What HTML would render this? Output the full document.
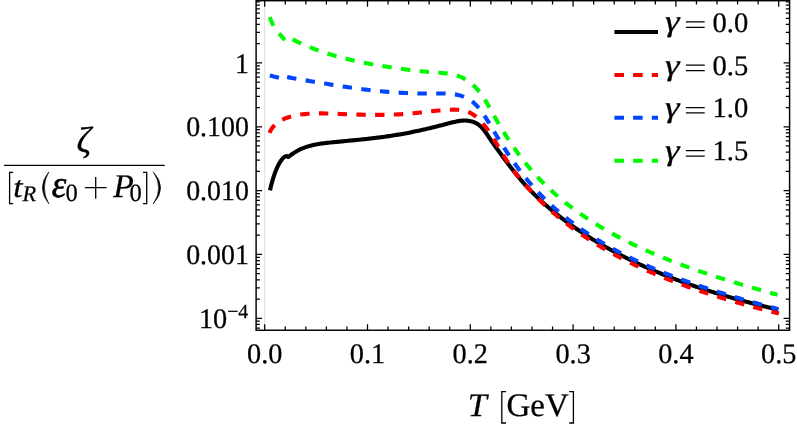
<!DOCTYPE html>
<html><head><meta charset="utf-8"><title>plot</title>
<style>html,body{margin:0;padding:0;background:#fff;}svg{display:block;}</style></head>
<body>
<svg width="797" height="430" viewBox="0 0 797 430" style="will-change:transform">
<rect width="797" height="430" fill="#fff"/>
<path d="M264.7,0.7 V330.25" stroke="#c0c0c0" stroke-width="0.55" fill="none"/>
<g fill="none" stroke-width="4.1" stroke-linecap="butt" stroke-linejoin="round">
<path d="M270.00,190.40 L270.14,189.75 L270.29,189.09 L270.44,188.44 L270.59,187.79 L270.74,187.14 L270.90,186.49 L271.06,185.84 L271.22,185.19 L271.39,184.55 L271.56,183.90 L271.73,183.25 L271.90,182.61 L272.08,181.96 L272.26,181.32 L272.44,180.67 L272.63,180.03 L272.82,179.39 L273.01,178.75 L273.21,178.11 L273.41,177.48 L273.62,176.84 L273.82,176.21 L274.04,175.57 L274.25,174.94 L274.47,174.31 L274.69,173.67 L274.92,173.04 L275.15,172.41 L275.39,171.79 L275.63,171.16 L275.88,170.54 L276.13,169.92 L276.38,169.31 L276.64,168.70 L276.91,168.09 L277.19,167.48 L277.47,166.87 L277.76,166.26 L278.06,165.66 L278.36,165.06 L278.67,164.47 L278.99,163.88 L279.32,163.30 L279.66,162.73 L280.01,162.16 L280.37,161.60 L280.74,161.04 L281.13,160.48 L281.53,159.94 L281.94,159.41 L282.36,158.89 L282.81,158.40 L283.26,157.91 L283.75,157.42 L284.26,156.96 L284.80,156.60 L285.39,156.34 L286.02,156.14 L286.70,156.00 L288.22,157.02 L289.32,156.18 L290.44,155.34 L291.58,154.51 L292.73,153.70 L293.90,152.91 L295.08,152.15 L296.28,151.42 L297.50,150.72 L298.73,150.07 L299.97,149.46 L301.23,148.89 L302.50,148.35 L303.78,147.84 L305.08,147.37 L306.38,146.93 L307.70,146.51 L309.02,146.12 L310.36,145.76 L311.70,145.42 L313.06,145.10 L314.42,144.80 L315.79,144.53 L317.16,144.27 L318.54,144.03 L319.93,143.80 L321.33,143.59 L322.72,143.40 L324.13,143.21 L325.53,143.04 L326.94,142.87 L328.35,142.72 L329.77,142.57 L331.18,142.42 L332.60,142.28 L334.02,142.15 L335.43,142.01 L336.85,141.88 L338.27,141.74 L339.68,141.61 L341.10,141.47 L342.51,141.34 L343.93,141.20 L345.34,141.07 L346.76,140.93 L348.17,140.80 L349.58,140.66 L350.99,140.52 L352.40,140.39 L353.81,140.25 L355.22,140.11 L356.63,139.97 L358.03,139.82 L359.44,139.68 L360.84,139.54 L362.25,139.39 L363.65,139.24 L365.05,139.09 L366.45,138.94 L367.85,138.79 L369.25,138.63 L370.65,138.47 L372.04,138.31 L373.44,138.15 L374.83,137.98 L376.22,137.81 L377.61,137.64 L379.00,137.47 L380.38,137.29 L381.77,137.11 L383.15,136.92 L384.53,136.73 L385.92,136.54 L387.29,136.35 L388.67,136.15 L390.05,135.95 L391.42,135.74 L392.79,135.53 L394.16,135.32 L395.53,135.10 L396.89,134.87 L398.26,134.64 L399.62,134.41 L400.98,134.17 L402.34,133.93 L403.70,133.69 L405.05,133.44 L406.41,133.18 L407.77,132.92 L409.12,132.66 L410.47,132.40 L411.83,132.12 L413.18,131.85 L414.53,131.57 L415.89,131.29 L417.24,131.00 L418.59,130.71 L419.94,130.41 L421.30,130.11 L422.65,129.81 L424.01,129.50 L425.37,129.19 L426.72,128.87 L428.08,128.55 L429.44,128.23 L430.80,127.90 L432.17,127.57 L433.53,127.24 L434.90,126.90 L436.27,126.56 L437.64,126.21 L439.01,125.86 L440.39,125.51 L441.77,125.16 L443.15,124.80 L444.54,124.43 L445.92,124.06 L447.31,123.69 L448.71,123.32 L450.10,122.96 L451.50,122.60 L452.90,122.26 L454.29,121.93 L455.69,121.63 L457.08,121.36 L458.47,121.12 L459.86,120.91 L461.25,120.75 L462.63,120.64 L464.00,120.57 L465.37,120.57 L466.73,120.62 L468.09,120.75 L469.43,120.94 L470.77,121.21 L472.09,121.55 L473.41,121.99 L474.71,122.51 L475.98,123.11 L477.21,123.80 L478.38,124.58 L479.50,125.43 L480.56,126.35 L481.57,127.33 L482.54,128.36 L483.46,129.43 L484.34,130.54 L485.18,131.67 L486.00,132.82 L486.80,133.98 L487.59,135.15 L488.36,136.33 L489.14,137.51 L489.92,138.68 L490.70,139.84 L491.49,141.00 L492.29,142.16 L493.09,143.31 L493.90,144.46 L494.71,145.60 L495.52,146.74 L496.34,147.88 L497.16,149.01 L497.98,150.14 L498.80,151.27 L499.62,152.40 L500.45,153.53 L501.28,154.66 L502.10,155.79 L502.93,156.92 L503.76,158.05 L504.60,159.17 L505.43,160.29 L506.27,161.42 L507.11,162.54 L507.95,163.66 L508.79,164.77 L509.64,165.89 L510.49,167.00 L511.34,168.10 L512.20,169.21 L513.06,170.31 L513.93,171.41 L514.80,172.51 L515.67,173.60 L516.55,174.69 L517.43,175.77 L518.32,176.85 L519.21,177.93 L520.11,179.00 L521.02,180.07 L521.93,181.13 L522.84,182.18 L523.76,183.23 L524.69,184.28 L525.63,185.32 L526.57,186.35 L527.52,187.38 L528.47,188.40 L529.43,189.42 L530.40,190.43 L531.37,191.44 L532.35,192.44 L533.34,193.43 L534.33,194.42 L535.33,195.41 L536.33,196.38 L537.34,197.36 L538.36,198.32 L539.38,199.29 L540.40,200.24 L541.43,201.19 L542.47,202.14 L543.51,203.08 L544.56,204.02 L545.61,204.95 L546.66,205.87 L547.73,206.79 L548.79,207.70 L549.86,208.61 L550.94,209.52 L552.02,210.42 L553.10,211.31 L554.19,212.20 L555.28,213.09 L556.38,213.96 L557.48,214.84 L558.58,215.71 L559.69,216.57 L560.80,217.43 L561.92,218.29 L563.04,219.14 L564.16,219.98 L565.29,220.82 L566.42,221.66 L567.55,222.49 L568.69,223.32 L569.83,224.14 L570.97,224.96 L572.12,225.77 L573.27,226.58 L574.42,227.38 L575.57,228.18 L576.73,228.97 L577.89,229.76 L579.05,230.55 L580.22,231.33 L581.38,232.11 L582.55,232.88 L583.73,233.65 L584.90,234.41 L586.08,235.17 L587.26,235.93 L588.44,236.68 L589.63,237.42 L590.81,238.17 L592.00,238.90 L593.20,239.64 L594.39,240.37 L595.59,241.09 L596.79,241.81 L597.99,242.53 L599.19,243.24 L600.40,243.95 L601.61,244.66 L602.82,245.36 L604.03,246.05 L605.25,246.74 L606.46,247.43 L607.68,248.12 L608.90,248.80 L610.13,249.47 L611.35,250.15 L612.58,250.81 L613.81,251.48 L615.05,252.14 L616.28,252.80 L617.52,253.45 L618.76,254.10 L620.00,254.74 L621.24,255.39 L622.48,256.02 L623.73,256.66 L624.98,257.29 L626.23,257.91 L627.48,258.54 L628.74,259.15 L629.99,259.77 L631.25,260.38 L632.51,260.99 L633.77,261.59 L635.04,262.19 L636.30,262.79 L637.57,263.39 L638.84,263.98 L640.11,264.56 L641.38,265.14 L642.65,265.72 L643.93,266.30 L645.21,266.87 L646.49,267.44 L647.77,268.01 L649.05,268.57 L650.33,269.13 L651.62,269.68 L652.91,270.24 L654.19,270.78 L655.48,271.33 L656.78,271.87 L658.07,272.41 L659.36,272.95 L660.66,273.48 L661.96,274.01 L663.26,274.53 L664.56,275.06 L665.86,275.58 L667.16,276.09 L668.47,276.61 L669.77,277.12 L671.08,277.62 L672.39,278.13 L673.70,278.63 L675.01,279.13 L676.32,279.62 L677.63,280.11 L678.95,280.60 L680.26,281.09 L681.58,281.57 L682.90,282.05 L684.22,282.53 L685.54,283.00 L686.86,283.47 L688.18,283.94 L689.51,284.41 L690.83,284.87 L692.16,285.33 L693.48,285.79 L694.81,286.24 L696.14,286.69 L697.47,287.14 L698.80,287.59 L700.13,288.03 L701.46,288.47 L702.80,288.91 L704.13,289.35 L705.47,289.78 L706.80,290.21 L708.14,290.64 L709.48,291.06 L710.82,291.48 L712.16,291.90 L713.50,292.32 L714.84,292.74 L716.18,293.15 L717.52,293.56 L718.86,293.97 L720.21,294.37 L721.55,294.77 L722.89,295.18 L724.24,295.57 L725.59,295.97 L726.93,296.36 L728.28,296.75 L729.63,297.14 L730.98,297.53 L732.32,297.91 L733.67,298.30 L735.02,298.67 L736.37,299.05 L737.72,299.43 L739.07,299.80 L740.43,300.17 L741.78,300.54 L743.13,300.91 L744.48,301.27 L745.83,301.64 L747.19,302.00 L748.54,302.35 L749.89,302.71 L751.25,303.07 L752.60,303.42 L753.96,303.77 L755.31,304.12 L756.67,304.46 L758.02,304.81 L759.38,305.15 L760.73,305.49 L762.09,305.83 L763.44,306.17 L764.80,306.51 L766.15,306.84 L767.51,307.17 L768.86,307.50 L770.22,307.83 L771.58,308.16 L772.93,308.48 L774.29,308.80 L775.64,309.13 L777.00,309.45 L778.35,309.76" stroke="#000"/>
<path d="M269.46,132.81 L270.20,131.23 L271.03,129.75 L271.94,128.35 L272.93,127.04 L273.99,125.81 L275.13,124.66 L276.33,123.59 L277.59,122.60 L278.91,121.67 L280.28,120.82 L281.69,120.03 L283.16,119.30 L284.66,118.63 L286.20,118.02 L287.77,117.46 L289.36,116.95 L290.98,116.49 L292.62,116.07 L294.27,115.69 L295.93,115.36 L297.60,115.05 L299.27,114.78 L300.93,114.54 L302.59,114.33 L304.25,114.14 L305.90,113.97 L307.54,113.83 L309.18,113.71 L310.82,113.61 L312.45,113.53 L314.08,113.47 L315.71,113.42 L317.33,113.39 L318.95,113.38 L320.57,113.38 L322.19,113.39 L323.81,113.41 L325.42,113.44 L327.04,113.48 L328.65,113.53 L330.27,113.58 L331.88,113.64 L333.50,113.70 L335.12,113.77 L336.74,113.83 L338.36,113.90 L339.98,113.96 L341.60,114.03 L343.23,114.09 L344.85,114.15 L346.48,114.21 L348.11,114.27 L349.74,114.33 L351.37,114.39 L353.01,114.44 L354.64,114.49 L356.28,114.54 L357.91,114.59 L359.55,114.63 L361.19,114.67 L362.83,114.71 L364.47,114.74 L366.11,114.77 L367.75,114.80 L369.39,114.82 L371.04,114.84 L372.68,114.86 L374.32,114.86 L375.97,114.87 L377.61,114.87 L379.25,114.86 L380.90,114.85 L382.54,114.84 L384.19,114.82 L385.83,114.79 L387.47,114.76 L389.11,114.72 L390.76,114.67 L392.40,114.62 L394.04,114.56 L395.68,114.49 L397.32,114.42 L398.96,114.34 L400.60,114.25 L402.24,114.15 L403.88,114.05 L405.51,113.93 L407.15,113.81 L408.78,113.68 L410.41,113.55 L412.04,113.40 L413.67,113.24 L415.30,113.08 L416.93,112.91 L418.56,112.73 L420.19,112.55 L421.81,112.37 L423.44,112.18 L425.07,111.99 L426.70,111.81 L428.33,111.62 L429.96,111.43 L431.59,111.25 L433.22,111.07 L434.86,110.90 L436.50,110.73 L438.14,110.57 L439.78,110.42 L441.42,110.28 L443.07,110.15 L444.72,110.04 L446.38,109.93 L448.04,109.84 L449.70,109.77 L451.37,109.71 L453.04,109.67 L454.70,109.67 L456.36,109.71 L458.01,109.79 L459.64,109.92 L461.26,110.11 L462.85,110.37 L464.42,110.70 L465.95,111.12 L467.46,111.62 L468.93,112.22 L470.36,112.90 L471.75,113.68 L473.11,114.53 L474.43,115.46 L475.72,116.46 L476.97,117.51 L478.19,118.61 L479.37,119.76 L480.53,120.94 L481.65,122.16 L482.74,123.40 L483.80,124.66 L484.83,125.93 L485.84,127.23 L486.82,128.54 L487.78,129.86 L488.71,131.20 L489.63,132.54 L490.53,133.90 L491.42,135.27 L492.29,136.65 L493.15,138.04 L494.00,139.44 L494.84,140.84 L495.68,142.24 L496.51,143.65 L497.33,145.07 L498.16,146.48 L498.99,147.90 L499.82,149.31 L500.66,150.73 L501.50,152.14 L502.35,153.55 L503.21,154.95 L504.08,156.35 L504.96,157.74 L505.86,159.13 L506.77,160.51 L507.68,161.88 L508.61,163.25 L509.55,164.61 L510.50,165.97 L511.46,167.32 L512.43,168.66 L513.41,170.00 L514.40,171.33 L515.40,172.65 L516.41,173.97 L517.43,175.28 L518.45,176.58 L519.49,177.87 L520.53,179.16 L521.58,180.44 L522.64,181.71 L523.70,182.97 L524.78,184.23 L525.86,185.48 L526.95,186.72 L528.04,187.95 L529.14,189.18 L530.25,190.40 L531.36,191.61 L532.48,192.81 L533.61,194.00 L534.74,195.19 L535.88,196.37 L537.03,197.54 L538.18,198.70 L539.34,199.86 L540.51,201.01 L541.68,202.15 L542.86,203.28 L544.04,204.41 L545.23,205.53 L546.43,206.64 L547.63,207.74 L548.84,208.84 L550.05,209.93 L551.27,211.01 L552.50,212.09 L553.73,213.16 L554.97,214.22 L556.21,215.27 L557.46,216.32 L558.71,217.36 L559.97,218.40 L561.24,219.42 L562.51,220.44 L563.78,221.45 L565.06,222.46 L566.35,223.46 L567.64,224.45 L568.94,225.44 L570.24,226.42 L571.54,227.39 L572.85,228.36 L574.17,229.32 L575.49,230.27 L576.82,231.21 L578.15,232.15 L579.48,233.09 L580.82,234.01 L582.17,234.94 L583.52,235.85 L584.87,236.76 L586.23,237.66 L587.59,238.56 L588.96,239.44 L590.33,240.33 L591.70,241.21 L593.08,242.08 L594.47,242.94 L595.86,243.80 L597.25,244.65 L598.64,245.50 L600.04,246.34 L601.45,247.18 L602.85,248.01 L604.27,248.83 L605.68,249.65 L607.10,250.46 L608.52,251.27 L609.95,252.07 L611.38,252.86 L612.81,253.65 L614.25,254.44 L615.69,255.22 L617.13,255.99 L618.58,256.76 L620.03,257.52 L621.48,258.28 L622.94,259.03 L624.40,259.77 L625.86,260.51 L627.32,261.25 L628.79,261.98 L630.26,262.71 L631.74,263.43 L633.21,264.14 L634.69,264.85 L636.18,265.56 L637.66,266.26 L639.15,266.95 L640.64,267.64 L642.13,268.33 L643.63,269.01 L645.12,269.68 L646.62,270.35 L648.12,271.02 L649.63,271.68 L651.13,272.33 L652.64,272.99 L654.15,273.63 L655.67,274.28 L657.18,274.91 L658.70,275.55 L660.22,276.18 L661.74,276.80 L663.26,277.42 L664.79,278.04 L666.31,278.65 L667.84,279.25 L669.37,279.86 L670.90,280.46 L672.44,281.05 L673.97,281.64 L675.51,282.23 L677.05,282.81 L678.59,283.39 L680.13,283.96 L681.67,284.53 L683.22,285.10 L684.76,285.66 L686.31,286.21 L687.86,286.77 L689.41,287.32 L690.96,287.87 L692.51,288.41 L694.07,288.95 L695.62,289.48 L697.18,290.01 L698.74,290.54 L700.30,291.07 L701.86,291.59 L703.42,292.10 L704.98,292.62 L706.54,293.13 L708.11,293.64 L709.67,294.14 L711.24,294.64 L712.80,295.14 L714.37,295.63 L715.94,296.12 L717.51,296.61 L719.08,297.09 L720.65,297.57 L722.22,298.05 L723.79,298.53 L725.36,299.00 L726.93,299.47 L728.50,299.93 L730.08,300.39 L731.65,300.85 L733.22,301.31 L734.80,301.77 L736.37,302.22 L737.95,302.67 L739.52,303.11 L741.10,303.56 L742.67,304.00 L744.25,304.43 L745.82,304.87 L747.40,305.30 L748.97,305.73 L750.55,306.16 L752.13,306.59 L753.70,307.01 L755.28,307.43 L756.85,307.85 L758.43,308.26 L760.00,308.68 L761.58,309.09 L763.15,309.50 L764.72,309.90 L766.30,310.31 L767.87,310.71 L769.44,311.11 L771.02,311.51 L772.59,311.91 L774.16,312.30 L775.73,312.70 L777.30,313.09 L778.87,313.48" stroke="#fc0000" stroke-dasharray="9.368 9.368"/>
<path d="M269.80,75.60 L272.12,76.12 L274.45,76.65 L276.78,77.17 L279.10,77.70" stroke="#0046ff" stroke-dasharray="9.390 9.390"/>
<path d="M287.11,77.10 L288.67,77.37 L290.24,77.64 L291.81,77.91 L293.37,78.18 L294.94,78.45 L296.51,78.72 L298.08,78.99 L299.65,79.27 L301.23,79.54 L302.80,79.81 L304.37,80.08 L305.95,80.36 L307.52,80.63 L309.09,80.90 L310.67,81.17 L312.25,81.44 L313.82,81.71 L315.40,81.98 L316.97,82.25 L318.55,82.52 L320.13,82.79 L321.71,83.05 L323.28,83.32 L324.86,83.58 L326.44,83.84 L328.02,84.10 L329.59,84.36 L331.17,84.62 L332.75,84.87 L334.33,85.12 L335.91,85.38 L337.48,85.62 L339.06,85.87 L340.64,86.12 L342.21,86.36 L343.79,86.60 L345.37,86.83 L346.94,87.07 L348.52,87.30 L350.09,87.53 L351.66,87.75 L353.24,87.97 L354.81,88.19 L356.38,88.41 L357.95,88.62 L359.53,88.83 L361.10,89.03 L362.66,89.23 L364.23,89.43 L365.80,89.62 L367.37,89.81 L368.94,89.99 L370.50,90.18 L372.07,90.35 L373.64,90.53 L375.20,90.69 L376.77,90.86 L378.34,91.02 L379.90,91.17 L381.47,91.32 L383.04,91.47 L384.61,91.61 L386.17,91.75 L387.74,91.88 L389.31,92.01 L390.89,92.13 L392.46,92.25 L394.03,92.36 L395.61,92.47 L397.18,92.57 L398.76,92.66 L400.34,92.76 L401.92,92.84 L403.50,92.92 L405.09,93.00 L406.67,93.07 L408.26,93.14 L409.85,93.20 L411.44,93.25 L413.04,93.30 L414.63,93.35 L416.23,93.39 L417.84,93.43 L419.44,93.46 L421.05,93.49 L422.66,93.51 L424.27,93.53 L425.89,93.55 L427.51,93.56 L429.13,93.56 L430.76,93.56 L432.39,93.56 L434.02,93.55 L435.65,93.54 L437.30,93.53 L438.94,93.51 L440.58,93.50 L442.22,93.50 L443.86,93.51 L445.50,93.54 L447.12,93.59 L448.74,93.67 L450.35,93.78 L451.95,93.93 L453.53,94.12 L455.10,94.36 L456.66,94.64 L458.19,94.98 L459.70,95.37 L461.19,95.82 L462.66,96.32 L464.10,96.88 L465.51,97.49 L466.89,98.16 L468.24,98.89 L469.55,99.68 L470.83,100.52 L472.07,101.43 L473.28,102.40 L474.44,103.42 L475.58,104.50 L476.67,105.63 L477.74,106.79 L478.78,108.00 L479.79,109.23 L480.77,110.50 L481.73,111.79 L482.67,113.10 L483.58,114.43 L484.48,115.77 L485.36,117.11 L486.23,118.46 L487.08,119.82 L487.92,121.18 L488.75,122.55 L489.58,123.92 L490.40,125.29 L491.21,126.67 L492.02,128.04 L492.83,129.42 L493.65,130.80 L494.46,132.18 L495.29,133.55 L496.11,134.93 L496.94,136.30 L497.77,137.67 L498.61,139.04 L499.46,140.41 L500.30,141.77 L501.15,143.14 L502.01,144.50 L502.87,145.86 L503.74,147.22 L504.61,148.57 L505.49,149.92 L506.37,151.27 L507.25,152.61 L508.15,153.95 L509.04,155.29 L509.95,156.62 L510.85,157.95 L511.77,159.27 L512.69,160.59 L513.61,161.91 L514.54,163.22 L515.48,164.52 L516.42,165.83 L517.36,167.12 L518.32,168.41 L519.28,169.70 L520.24,170.98 L521.22,172.25 L522.19,173.52 L523.18,174.78 L524.17,176.03 L525.17,177.28 L526.17,178.52 L527.18,179.76 L528.20,180.98 L529.22,182.21 L530.25,183.42 L531.29,184.62 L532.34,185.82 L533.39,187.01 L534.45,188.20 L535.51,189.37 L536.59,190.54 L537.66,191.70 L538.75,192.85 L539.84,194.00 L540.94,195.13 L542.05,196.26 L543.16,197.38 L544.28,198.50 L545.41,199.61 L546.54,200.71 L547.68,201.80 L548.82,202.89 L549.97,203.97 L551.13,205.04 L552.29,206.10 L553.46,207.16 L554.63,208.21 L555.81,209.25 L557.00,210.29 L558.19,211.32 L559.39,212.34 L560.60,213.36 L561.81,214.36 L563.02,215.37 L564.24,216.36 L565.47,217.35 L566.70,218.33 L567.94,219.31 L569.18,220.27 L570.43,221.24 L571.69,222.19 L572.95,223.14 L574.21,224.08 L575.48,225.02 L576.75,225.95 L578.03,226.87 L579.32,227.79 L580.61,228.70 L581.90,229.60 L583.20,230.50 L584.50,231.39 L585.81,232.28 L587.13,233.16 L588.44,234.03 L589.77,234.90 L591.09,235.76 L592.43,236.62 L593.76,237.47 L595.10,238.31 L596.45,239.15 L597.80,239.98 L599.15,240.81 L600.51,241.63 L601.87,242.44 L603.23,243.25 L604.60,244.05 L605.98,244.85 L607.35,245.64 L608.73,246.43 L610.12,247.21 L611.51,247.99 L612.90,248.76 L614.30,249.52 L615.70,250.28 L617.10,251.04 L618.50,251.79 L619.91,252.53 L621.33,253.27 L622.75,254.00 L624.17,254.73 L625.59,255.46 L627.02,256.17 L628.44,256.89 L629.88,257.60 L631.31,258.30 L632.75,259.00 L634.19,259.69 L635.64,260.38 L637.09,261.06 L638.54,261.74 L639.99,262.42 L641.44,263.09 L642.90,263.75 L644.36,264.41 L645.83,265.07 L647.29,265.72 L648.76,266.37 L650.23,267.01 L651.70,267.65 L653.18,268.28 L654.65,268.91 L656.13,269.54 L657.62,270.16 L659.10,270.77 L660.58,271.39 L662.07,271.99 L663.56,272.60 L665.05,273.20 L666.54,273.79 L668.04,274.38 L669.54,274.97 L671.03,275.56 L672.53,276.14 L674.03,276.71 L675.54,277.28 L677.04,277.85 L678.55,278.42 L680.05,278.98 L681.56,279.53 L683.07,280.09 L684.58,280.64 L686.09,281.18 L687.60,281.73 L689.12,282.26 L690.63,282.80 L692.15,283.33 L693.66,283.86 L695.18,284.39 L696.70,284.91 L698.22,285.43 L699.74,285.94 L701.25,286.45 L702.78,286.96 L704.30,287.47 L705.82,287.97 L707.34,288.47 L708.86,288.97 L710.38,289.46 L711.91,289.95 L713.43,290.44 L714.95,290.92 L716.47,291.40 L718.00,291.88 L719.52,292.36 L721.04,292.83 L722.57,293.30 L724.09,293.77 L725.61,294.24 L727.13,294.70 L728.65,295.16 L730.18,295.62 L731.70,296.07 L733.22,296.52 L734.74,296.97 L736.26,297.42 L737.77,297.87 L739.29,298.31 L740.81,298.75 L742.33,299.19 L743.84,299.63 L745.36,300.06 L746.87,300.49 L748.38,300.92 L749.89,301.35 L751.41,301.78 L752.91,302.20 L754.42,302.62 L755.93,303.04 L757.44,303.46 L758.94,303.87 L760.44,304.29 L761.94,304.70 L763.44,305.11 L764.94,305.52 L766.44,305.93 L767.93,306.33 L769.43,306.74 L770.92,307.14 L772.41,307.54 L773.90,307.94 L775.38,308.34 L776.87,308.74 L778.35,309.13" stroke="#0046ff" stroke-dasharray="9.390 9.390"/>
<path d="M269.90,17.20 L270.12,17.89 L270.34,18.57 L270.58,19.25 L270.83,19.92 L271.09,20.58 L271.37,21.24 L271.65,21.89 L271.94,22.54 L272.24,23.18 L272.55,23.81 L272.86,24.44 L273.19,25.06 L273.52,25.67 L273.86,26.28 L274.21,26.88 L274.59,27.47 L274.99,28.05 L275.40,28.63 L275.82,29.20 L276.25,29.76 L276.69,30.33 L277.14,30.89 L277.58,31.44 L278.03,32.00 L278.48,32.55 L278.92,33.10 L279.36,33.66 L279.81,34.21 L280.25,34.76 L280.70,35.30 L281.16,35.84 L281.61,36.38 L282.07,36.92 L282.54,37.46 L283.00,37.99 L283.47,38.52 L283.95,39.05 L284.42,39.58 L284.90,40.10" stroke="#00fa00" stroke-dasharray="9.396 9.396"/>
<path d="M292.70,39.40 L294.13,40.13 L295.58,40.84 L297.02,41.54 L298.47,42.23 L299.92,42.91 L301.38,43.57 L302.84,44.23 L304.30,44.87 L305.77,45.50 L307.24,46.12 L308.71,46.73 L310.19,47.33 L311.67,47.91 L313.16,48.49 L314.64,49.06 L316.13,49.62 L317.63,50.16 L319.12,50.70 L320.62,51.23 L322.12,51.75 L323.63,52.25 L325.14,52.75 L326.65,53.24 L328.16,53.72 L329.68,54.20 L331.20,54.66 L332.72,55.12 L334.24,55.56 L335.76,56.00 L337.29,56.43 L338.82,56.86 L340.35,57.27 L341.89,57.68 L343.42,58.08 L344.96,58.47 L346.50,58.86 L348.04,59.24 L349.58,59.61 L351.13,59.97 L352.68,60.33 L354.22,60.68 L355.77,61.03 L357.32,61.37 L358.87,61.71 L360.43,62.03 L361.98,62.36 L363.54,62.67 L365.10,62.99 L366.65,63.29 L368.21,63.60 L369.77,63.89 L371.33,64.18 L372.90,64.47 L374.46,64.75 L376.02,65.03 L377.59,65.30 L379.16,65.57 L380.72,65.83 L382.29,66.09 L383.86,66.35 L385.43,66.60 L387.01,66.84 L388.58,67.08 L390.16,67.32 L391.73,67.55 L393.31,67.78 L394.89,68.01 L396.47,68.23 L398.05,68.44 L399.63,68.66 L401.21,68.87 L402.80,69.07 L404.38,69.27 L405.97,69.47 L407.56,69.67 L409.15,69.86 L410.74,70.05 L412.33,70.23 L413.92,70.41 L415.51,70.59 L417.11,70.76 L418.71,70.93 L420.30,71.10 L421.90,71.26 L423.50,71.42 L425.11,71.57 L426.71,71.73 L428.31,71.87 L429.92,72.02 L431.53,72.16 L433.13,72.30 L434.74,72.43 L436.35,72.56 L437.97,72.69 L439.58,72.82 L441.19,72.94 L442.80,73.08 L444.41,73.23 L446.01,73.39 L447.60,73.58 L449.19,73.80 L450.76,74.05 L452.32,74.35 L453.86,74.68 L455.39,75.07 L456.90,75.52 L458.39,76.03 L459.85,76.59 L461.30,77.22 L462.72,77.89 L464.11,78.62 L465.48,79.40 L466.82,80.22 L468.12,81.09 L469.40,82.01 L470.64,82.96 L471.85,83.95 L473.03,84.98 L474.16,86.05 L475.27,87.15 L476.34,88.28 L477.38,89.44 L478.39,90.63 L479.37,91.84 L480.33,93.08 L481.27,94.34 L482.18,95.63 L483.07,96.93 L483.95,98.26 L484.81,99.60 L485.65,100.95 L486.48,102.32 L487.30,103.70 L488.11,105.09 L488.91,106.49 L489.71,107.90 L490.50,109.31 L491.29,110.73 L492.08,112.14 L492.86,113.56 L493.66,114.98 L494.45,116.39 L495.25,117.80 L496.06,119.21 L496.86,120.62 L497.68,122.02 L498.50,123.42 L499.32,124.81 L500.15,126.21 L500.98,127.59 L501.82,128.98 L502.66,130.36 L503.51,131.73 L504.36,133.11 L505.22,134.47 L506.09,135.84 L506.96,137.20 L507.83,138.55 L508.71,139.90 L509.60,141.24 L510.49,142.58 L511.39,143.91 L512.29,145.24 L513.20,146.57 L514.12,147.88 L515.04,149.20 L515.96,150.50 L516.90,151.80 L517.84,153.10 L518.79,154.39 L519.74,155.67 L520.70,156.94 L521.66,158.21 L522.64,159.48 L523.62,160.73 L524.60,161.98 L525.60,163.22 L526.60,164.46 L527.60,165.69 L528.62,166.91 L529.64,168.12 L530.67,169.33 L531.71,170.52 L532.75,171.71 L533.80,172.90 L534.86,174.07 L535.92,175.24 L537.00,176.40 L538.07,177.55 L539.16,178.70 L540.25,179.83 L541.35,180.96 L542.46,182.09 L543.57,183.20 L544.69,184.31 L545.82,185.41 L546.95,186.51 L548.09,187.59 L549.24,188.67 L550.39,189.74 L551.55,190.81 L552.72,191.87 L553.89,192.92 L555.07,193.96 L556.25,195.00 L557.44,196.03 L558.64,197.05 L559.84,198.07 L561.05,199.08 L562.26,200.09 L563.48,201.08 L564.71,202.07 L565.94,203.06 L567.18,204.03 L568.42,205.00 L569.67,205.97 L570.92,206.92 L572.18,207.87 L573.44,208.82 L574.71,209.76 L575.99,210.69 L577.27,211.61 L578.55,212.53 L579.84,213.45 L581.14,214.35 L582.44,215.25 L583.75,216.15 L585.06,217.04 L586.37,217.92 L587.69,218.79 L589.01,219.66 L590.34,220.53 L591.68,221.39 L593.02,222.24 L594.36,223.09 L595.70,223.93 L597.06,224.76 L598.41,225.59 L599.77,226.42 L601.14,227.23 L602.50,228.05 L603.88,228.85 L605.25,229.66 L606.63,230.45 L608.02,231.24 L609.41,232.03 L610.80,232.81 L612.19,233.58 L613.59,234.35 L615.00,235.11 L616.40,235.87 L617.81,236.63 L619.23,237.37 L620.65,238.12 L622.07,238.86 L623.49,239.59 L624.92,240.32 L626.35,241.04 L627.78,241.76 L629.22,242.47 L630.66,243.18 L632.10,243.88 L633.55,244.58 L634.99,245.27 L636.45,245.96 L637.90,246.65 L639.36,247.33 L640.82,248.00 L642.28,248.67 L643.74,249.34 L645.21,250.00 L646.68,250.66 L648.15,251.31 L649.62,251.96 L651.10,252.60 L652.58,253.24 L654.06,253.87 L655.54,254.50 L657.03,255.13 L658.51,255.75 L660.00,256.37 L661.49,256.99 L662.99,257.60 L664.48,258.20 L665.98,258.80 L667.47,259.40 L668.97,260.00 L670.47,260.59 L671.98,261.17 L673.48,261.75 L674.98,262.33 L676.49,262.91 L678.00,263.48 L679.51,264.05 L681.02,264.61 L682.53,265.17 L684.04,265.73 L685.55,266.28 L687.07,266.83 L688.58,267.38 L690.10,267.92 L691.61,268.46 L693.13,268.99 L694.65,269.53 L696.17,270.06 L697.69,270.58 L699.21,271.11 L700.73,271.63 L702.25,272.14 L703.77,272.66 L705.29,273.17 L706.81,273.67 L708.33,274.18 L709.85,274.68 L711.37,275.18 L712.89,275.68 L714.42,276.17 L715.94,276.66 L717.46,277.15 L718.98,277.63 L720.50,278.11 L722.02,278.59 L723.54,279.07 L725.06,279.54 L726.58,280.01 L728.09,280.48 L729.61,280.95 L731.13,281.41 L732.65,281.88 L734.16,282.34 L735.67,282.79 L737.19,283.25 L738.70,283.70 L740.21,284.15 L741.72,284.60 L743.23,285.04 L744.74,285.49 L746.25,285.93 L747.75,286.37 L749.26,286.81 L750.76,287.24 L752.26,287.68 L753.76,288.11 L755.26,288.54 L756.76,288.97 L758.25,289.39 L759.75,289.82 L761.24,290.24 L762.73,290.66 L764.22,291.08 L765.70,291.50 L767.19,291.92 L768.67,292.33 L770.15,292.75 L771.62,293.16 L773.10,293.57 L774.57,293.98 L776.04,294.39 L777.51,294.79" stroke="#00fa00" stroke-dasharray="9.396 9.396"/>
<path d="M614.4,31.9 H658" stroke="#000" stroke-width="4"/>
<path d="M614.4,74.95 H658" stroke="#fc0000" stroke-width="4" stroke-dasharray="9.6 9.1"/>
<path d="M614.4,117.8 H658" stroke="#0046ff" stroke-width="4" stroke-dasharray="9.6 9.1"/>
<path d="M614.4,160.7 H658" stroke="#00fa00" stroke-width="4" stroke-dasharray="9.6 9.1"/>
</g>
<rect x="256.1" y="0.7" width="533.5" height="329.55" fill="none" stroke="#000" stroke-width="1.45"/>
<path d="M264.70,330.25 v-6.0 M264.70,0.7 v6.0 M285.26,330.25 v-3.8 M285.26,0.7 v3.8 M305.82,330.25 v-3.8 M305.82,0.7 v3.8 M326.38,330.25 v-3.8 M326.38,0.7 v3.8 M346.94,330.25 v-3.8 M346.94,0.7 v3.8 M367.50,330.25 v-6.0 M367.50,0.7 v6.0 M388.06,330.25 v-3.8 M388.06,0.7 v3.8 M408.62,330.25 v-3.8 M408.62,0.7 v3.8 M429.18,330.25 v-3.8 M429.18,0.7 v3.8 M449.74,330.25 v-3.8 M449.74,0.7 v3.8 M470.30,330.25 v-6.0 M470.30,0.7 v6.0 M490.86,330.25 v-3.8 M490.86,0.7 v3.8 M511.42,330.25 v-3.8 M511.42,0.7 v3.8 M531.98,330.25 v-3.8 M531.98,0.7 v3.8 M552.54,330.25 v-3.8 M552.54,0.7 v3.8 M573.10,330.25 v-6.0 M573.10,0.7 v6.0 M593.66,330.25 v-3.8 M593.66,0.7 v3.8 M614.22,330.25 v-3.8 M614.22,0.7 v3.8 M634.78,330.25 v-3.8 M634.78,0.7 v3.8 M655.34,330.25 v-3.8 M655.34,0.7 v3.8 M675.90,330.25 v-6.0 M675.90,0.7 v6.0 M696.46,330.25 v-3.8 M696.46,0.7 v3.8 M717.02,330.25 v-3.8 M717.02,0.7 v3.8 M737.58,330.25 v-3.8 M737.58,0.7 v3.8 M758.14,330.25 v-3.8 M758.14,0.7 v3.8 M778.70,330.25 v-6.0 M778.70,0.7 v6.0 M256.1,328.19 h3.8 M789.6,328.19 h-3.8 M256.1,324.49 h3.8 M789.6,324.49 h-3.8 M256.1,321.22 h3.8 M789.6,321.22 h-3.8 M256.1,318.30 h6.0 M789.6,318.30 h-6.0 M256.1,299.08 h3.8 M789.6,299.08 h-3.8 M256.1,287.84 h3.8 M789.6,287.84 h-3.8 M256.1,279.86 h3.8 M789.6,279.86 h-3.8 M256.1,273.67 h3.8 M789.6,273.67 h-3.8 M256.1,268.62 h3.8 M789.6,268.62 h-3.8 M256.1,264.34 h3.8 M789.6,264.34 h-3.8 M256.1,260.64 h3.8 M789.6,260.64 h-3.8 M256.1,257.37 h3.8 M789.6,257.37 h-3.8 M256.1,254.45 h6.0 M789.6,254.45 h-6.0 M256.1,235.23 h3.8 M789.6,235.23 h-3.8 M256.1,223.99 h3.8 M789.6,223.99 h-3.8 M256.1,216.01 h3.8 M789.6,216.01 h-3.8 M256.1,209.82 h3.8 M789.6,209.82 h-3.8 M256.1,204.77 h3.8 M789.6,204.77 h-3.8 M256.1,200.49 h3.8 M789.6,200.49 h-3.8 M256.1,196.79 h3.8 M789.6,196.79 h-3.8 M256.1,193.52 h3.8 M789.6,193.52 h-3.8 M256.1,190.60 h6.0 M789.6,190.60 h-6.0 M256.1,171.38 h3.8 M789.6,171.38 h-3.8 M256.1,160.14 h3.8 M789.6,160.14 h-3.8 M256.1,152.16 h3.8 M789.6,152.16 h-3.8 M256.1,145.97 h3.8 M789.6,145.97 h-3.8 M256.1,140.92 h3.8 M789.6,140.92 h-3.8 M256.1,136.64 h3.8 M789.6,136.64 h-3.8 M256.1,132.94 h3.8 M789.6,132.94 h-3.8 M256.1,129.67 h3.8 M789.6,129.67 h-3.8 M256.1,126.75 h6.0 M789.6,126.75 h-6.0 M256.1,107.53 h3.8 M789.6,107.53 h-3.8 M256.1,96.29 h3.8 M789.6,96.29 h-3.8 M256.1,88.31 h3.8 M789.6,88.31 h-3.8 M256.1,82.12 h3.8 M789.6,82.12 h-3.8 M256.1,77.07 h3.8 M789.6,77.07 h-3.8 M256.1,72.79 h3.8 M789.6,72.79 h-3.8 M256.1,69.09 h3.8 M789.6,69.09 h-3.8 M256.1,65.82 h3.8 M789.6,65.82 h-3.8 M256.1,62.90 h6.0 M789.6,62.90 h-6.0 M256.1,43.68 h3.8 M789.6,43.68 h-3.8 M256.1,32.44 h3.8 M789.6,32.44 h-3.8 M256.1,24.46 h3.8 M789.6,24.46 h-3.8 M256.1,18.27 h3.8 M789.6,18.27 h-3.8 M256.1,13.22 h3.8 M789.6,13.22 h-3.8 M256.1,8.94 h3.8 M789.6,8.94 h-3.8 M256.1,5.24 h3.8 M789.6,5.24 h-3.8 M256.1,1.97 h3.8 M789.6,1.97 h-3.8" stroke="#000" stroke-width="1.25" fill="none"/>
<g font-family="'Liberation Serif', serif" fill="#000" stroke="#000" stroke-width="0.25" text-rendering="geometricPrecision">
<text transform="translate(248.9,72.5) scale(0.985,1.0)" font-size="28.3" text-anchor="end">1</text>
<text transform="translate(248.9,136.4) scale(0.985,1.0)" font-size="28.3" text-anchor="end">0.100</text>
<text transform="translate(248.9,200.2) scale(0.985,1.0)" font-size="28.3" text-anchor="end">0.010</text>
<text transform="translate(248.9,264.0) scale(0.985,1.0)" font-size="28.3" text-anchor="end">0.001</text>
<text transform="translate(198.9,328.3) scale(1.0,1.0)" font-size="28.3" text-anchor="start">10</text>
<text transform="translate(227.2,317.8) scale(1.0,1.0)" font-size="19.8" text-anchor="start">&#8722;4</text>
<text transform="translate(264.7,363) scale(1.0,1.0)" font-size="28.3" text-anchor="middle">0.0</text>
<text transform="translate(367.5,363) scale(1.0,1.0)" font-size="28.3" text-anchor="middle">0.1</text>
<text transform="translate(470.3,363) scale(1.0,1.0)" font-size="28.3" text-anchor="middle">0.2</text>
<text transform="translate(573.1,363) scale(1.0,1.0)" font-size="28.3" text-anchor="middle">0.3</text>
<text transform="translate(675.9,363) scale(1.0,1.0)" font-size="28.3" text-anchor="middle">0.4</text>
<text transform="translate(778.7,363) scale(1.0,1.0)" font-size="28.3" text-anchor="middle">0.5</text>
<text transform="translate(467.8,415.9) scale(1.04,1)" font-size="33" text-anchor="start" font-style="italic">T</text>
<text transform="translate(506.4,415.9) scale(1,1)" font-size="33" text-anchor="start">GeV</text>
<path d="M506,391.6 H501.8 V423 H506 M569.2,391.6 H573.4 V423 H569.2" stroke="#000" stroke-width="1.3" fill="none"/>
<text transform="translate(665.0,31.3) scale(1.3,1.05)" font-size="28.3" text-anchor="start" font-style="italic">&#947;</text>
<path d="M685.9,21.95 h18.8 M685.9,27.30 h18.8" stroke="#000" stroke-width="1.25" fill="none"/>
<text transform="translate(712.5,31.7) scale(1.01,1.0)" font-size="28.3" text-anchor="start">0.0</text>
<text transform="translate(665.0,74.5) scale(1.3,1.05)" font-size="28.3" text-anchor="start" font-style="italic">&#947;</text>
<path d="M685.9,65.15 h18.8 M685.9,70.50 h18.8" stroke="#000" stroke-width="1.25" fill="none"/>
<text transform="translate(712.5,74.9) scale(1.01,1.0)" font-size="28.3" text-anchor="start">0.5</text>
<text transform="translate(665.0,116.89999999999999) scale(1.3,1.05)" font-size="28.3" text-anchor="start" font-style="italic">&#947;</text>
<path d="M685.9,107.55 h18.8 M685.9,112.90 h18.8" stroke="#000" stroke-width="1.25" fill="none"/>
<text transform="translate(712.5,117.3) scale(1.01,1.0)" font-size="28.3" text-anchor="start">1.0</text>
<text transform="translate(665.0,160.0) scale(1.3,1.05)" font-size="28.3" text-anchor="start" font-style="italic">&#947;</text>
<path d="M685.9,150.65 h18.8 M685.9,156.00 h18.8" stroke="#000" stroke-width="1.25" fill="none"/>
<text transform="translate(712.5,160.4) scale(1.01,1.0)" font-size="28.3" text-anchor="start">1.5</text>
<path d="M4.1,165.4 H164.7" stroke="#000" stroke-width="1.3" fill="none"/>
<text transform="translate(76.5,151.6) scale(1.1,1.1)" font-size="33" text-anchor="start" font-style="italic">&#950;</text>
<path d="M13.2,172.3 H9.6 V203.6 H13.2 M143,172.3 H146.7 V203.6 H143" stroke="#000" stroke-width="1.3" fill="none"/>
<text transform="translate(13.3,196.7) scale(1.12,1)" font-size="30" text-anchor="start" font-style="italic">t</text>
<text transform="translate(22.5,200.9) scale(1,1)" font-size="22.3" text-anchor="start" font-style="italic">R</text>
<path d="M48.9,171.8 Q35.90,187.85 48.9,203.9 Q39.90,187.85 48.9,171.8 Z" fill="#000" stroke="#000" stroke-width="0.55" stroke-linejoin="round"/>
<g stroke="#000" stroke-width="0.6">
<text transform="translate(51.7,196.7) scale(0.97,1)" font-size="38" text-anchor="start" font-style="italic">&#949;</text>
</g>
<text transform="translate(65.5,201.3) scale(1,1.02)" font-size="24.5" text-anchor="start">0</text>
<path d="M84.9,187.7 H106.6 M95.7,177 V198.7" stroke="#000" stroke-width="1.3" fill="none"/>
<text transform="translate(113.2,196.7) scale(1.02,1)" font-size="33" text-anchor="start" font-style="italic">P</text>
<text transform="translate(129.5,201.3) scale(1,1.02)" font-size="24.5" text-anchor="start">0</text>
<path d="M153.2,171.8 Q168.00,187.85 153.2,203.9 Q164.00,187.85 153.2,171.8 Z" fill="#000" stroke="#000" stroke-width="0.55" stroke-linejoin="round"/>
</g>
</svg>
</body></html>
